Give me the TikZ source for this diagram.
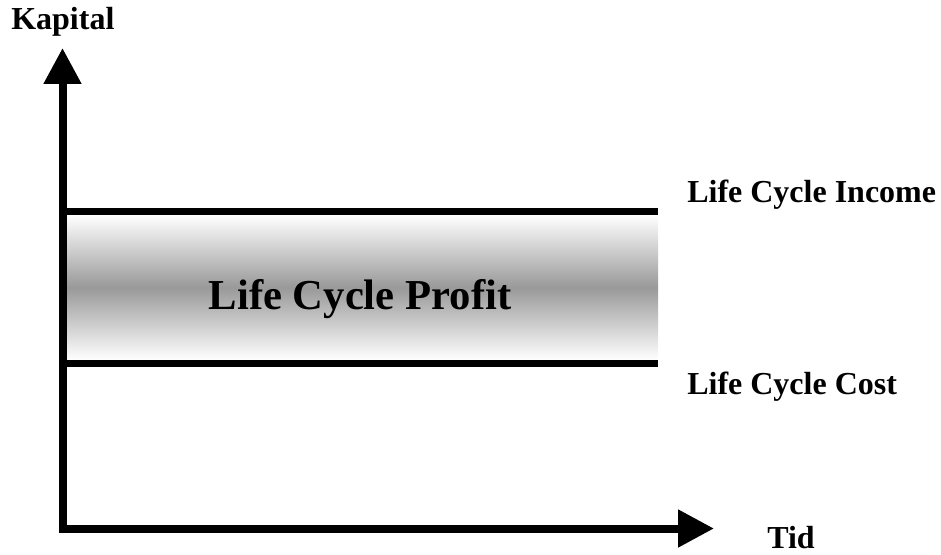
\documentclass[tikz,border=0pt]{standalone}
\usepackage{fontspec}
\setmainfont{Liberation Serif}
\usepackage{tikz}
\usetikzlibrary{positioning,arrows.meta}

\begin{document}
\begin{tikzpicture}[
      x=0.75pt, y=-0.75pt,
      axis/.style={-{Triangle[length=27pt, width=27pt]}, line width=6pt},
      level/.style={line width=5.5pt},
      lbl/.style={font=\bfseries\fontsize{24}{28}\selectfont, inner sep=0pt, anchor=base west}
    ]
    \useasboundingbox (0,0) rectangle (941,555);

    % profit band
    \shade[top color=white, bottom color=white, middle color=black!40] (66,215) rectangle (658,360);
    \node[font=\bfseries\fontsize{32}{36}\selectfont, inner sep=0pt, anchor=base] (profit) at (360,310) {Life Cycle Profit};

    % income and cost
    \coordinate (inc0) at (62,211.5);
    \coordinate (inc1) at (658,211.5);
    \coordinate (cost0) at (62,363.5);
    \coordinate (cost1) at (658,363.5);
    \draw[level] (inc0) -- (inc1);
    \draw[level] (cost0) -- (cost1);
    \node[lbl] (income) at (687,203) {Life Cycle Income};
    \node[lbl] (cost) at (687,394) {Life Cycle Cost};

    % axes
    \coordinate (ybot) at (62.5,532);
    \coordinate (ytop) at (62.5,48);
    \coordinate (xleft) at (58.5,528.5);
    \coordinate (xright) at (714,528.5);
    \draw[axis] (ybot) -- (ytop);
    \draw[axis] (xleft) -- (xright);
    \node[lbl] (kapital) at (11,30) {Kapital};
    \node[lbl] (tid) at (767,548) {Tid};
  \end{tikzpicture}
\end{document}
